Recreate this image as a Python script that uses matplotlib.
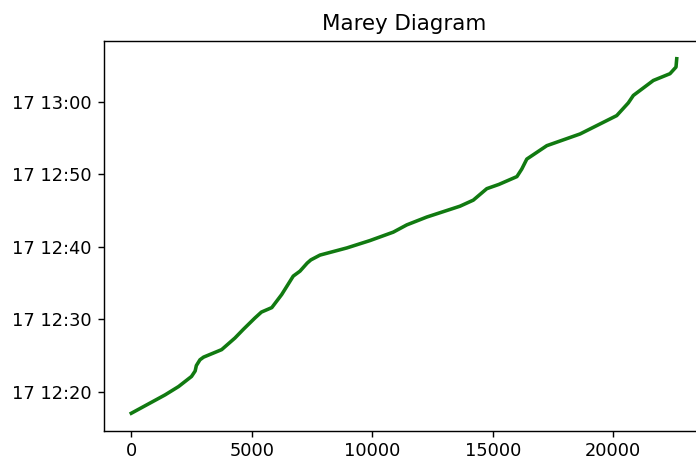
import numpy as np
import matplotlib
matplotlib.use("Agg")
import matplotlib.pyplot as plt
import matplotlib.dates as mdates

# distance along the route (x) and clock time (y)
distance = [0, 1400, 1960, 2500, 2650, 2700, 2850, 3000, 3750, 4300, 4650,
            5130, 5400, 5830, 6240, 6720, 7000, 7300, 7450, 7830, 8940,
            9900, 10870, 11430, 12260, 13640, 14190, 14750, 15250, 16000,
            16200, 16410, 17240, 18620, 19590, 20140, 20620, 20830, 21660,
            22350, 22600, 22630]
times = ["12:17:00", "12:19:32", "12:20:41", "12:22:05", "12:22:50",
         "12:23:35", "12:24:23", "12:24:45", "12:25:47", "12:27:23",
         "12:28:35", "12:30:09", "12:30:58", "12:31:35", "12:33:23",
         "12:35:56", "12:36:37", "12:37:44", "12:38:10", "12:38:50",
         "12:39:49", "12:40:50", "12:42:00", "12:43:00", "12:44:05",
         "12:45:35", "12:46:25", "12:48:00", "12:48:35", "12:49:40",
         "12:50:42", "12:52:05", "12:53:56", "12:55:33", "12:57:10",
         "12:58:05", "12:59:50", "13:00:52", "13:02:56", "13:03:52",
         "13:04:47", "13:05:56"]
day = "2019-06-17"
title = "Marey Diagram"

t = np.array([np.datetime64(f"{day}T{s}") for s in times])
x = np.array(distance)

dpi = 128
fig = plt.figure(figsize=(696 / dpi, 459 / dpi), dpi=dpi)
ax = fig.add_axes([104 / 696, (459 - 431) / 459, 600 / 696, 390 / 459])
ax.plot(x, t, color="#117a11", linewidth=2)
ax.set_title(title)
ax.yaxis.set_major_locator(mdates.MinuteLocator(byminute=[0, 10, 20, 30, 40, 50]))
ax.yaxis.set_major_formatter(mdates.DateFormatter("%d %H:%M"))
ax.set_xticks([0, 5000, 10000, 15000, 20000])
ax.tick_params(axis="x", pad=2.5)

fig.savefig("out.png", dpi=dpi)
